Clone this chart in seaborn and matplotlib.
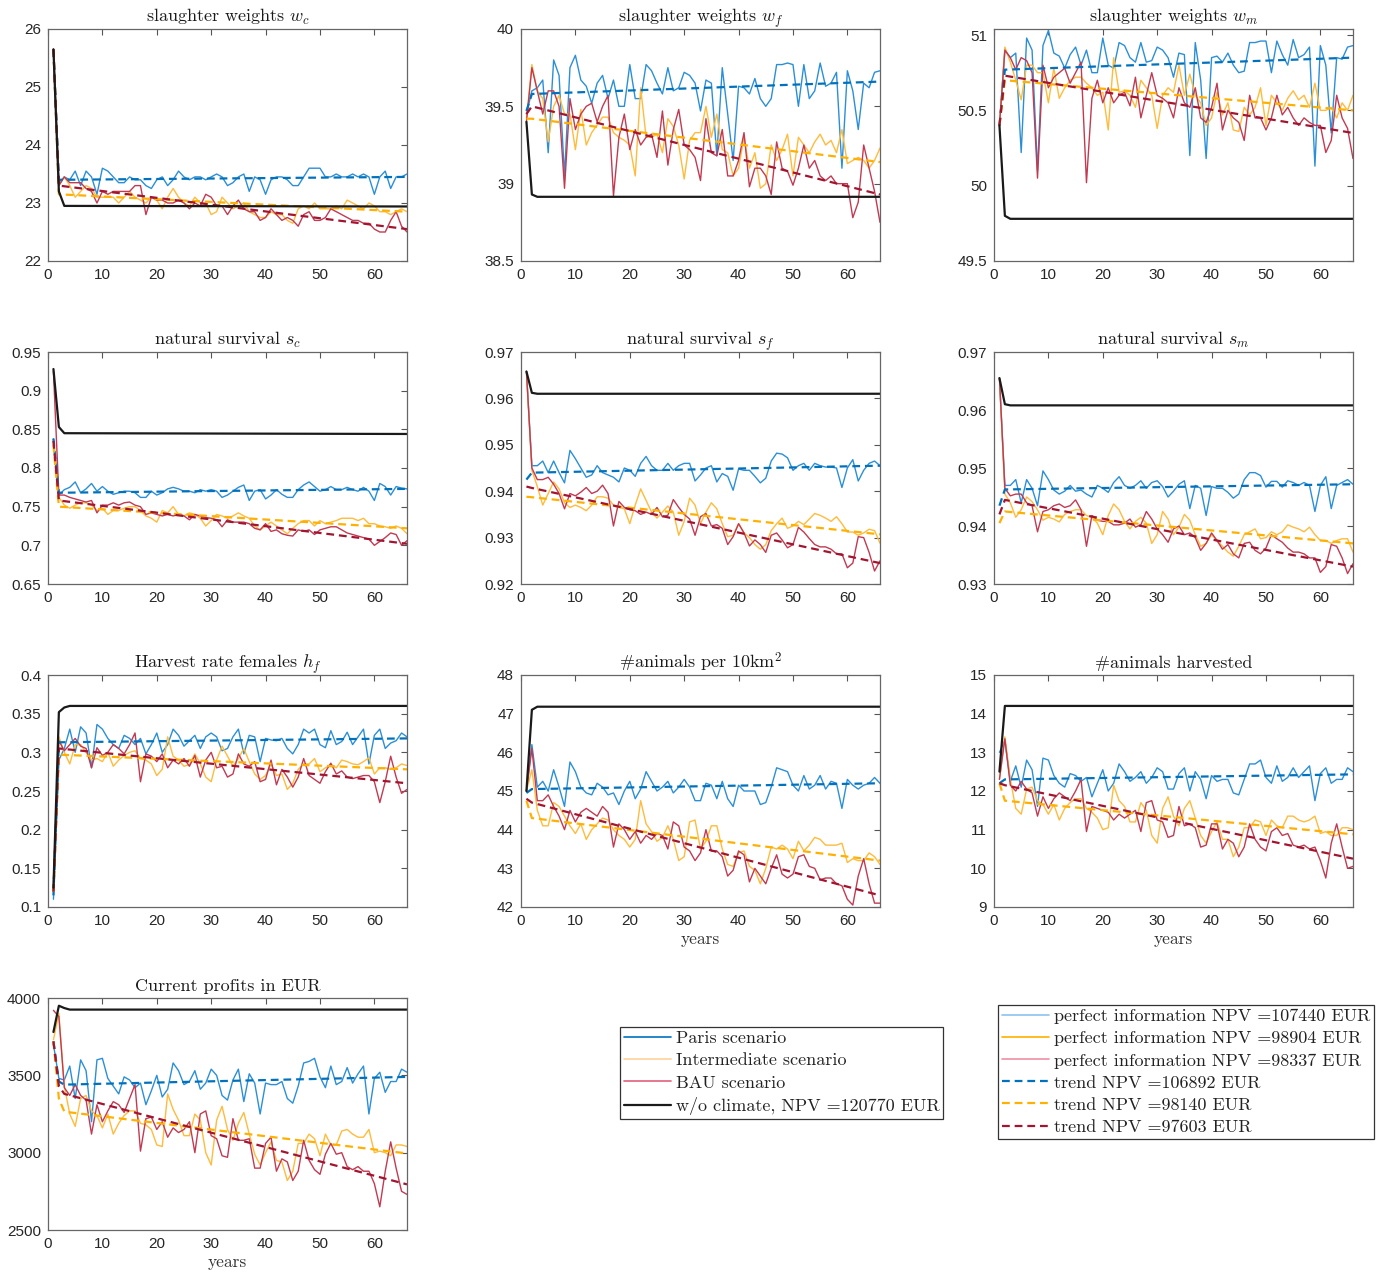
import numpy as np
import seaborn as sns
import matplotlib.pyplot as plt
from matplotlib.lines import Line2D
from matplotlib.ticker import FormatStrFormatter

# years 1..66 of the simulation
years = list(range(1, 67))

# ---- slaughter weights w_c ----
wc_paris = [25.65, 23.35, 23.45, 23.4, 23.55, 23.3, 23.55, 23.45, 23.15, 23.6,
            23.55, 23.45, 23.35, 23.35, 23.45, 23.4, 23.4, 23.3, 23.25, 23.4,
            23.45, 23.3, 23.4, 23.55, 23.45, 23.4, 23.45, 23.45, 23.4, 23.45,
            23.5, 23.45, 23.3, 23.35, 23.45, 23.5, 23.2, 23.45, 23.4, 23.15,
            23.4, 23.45, 23.45, 23.4, 23.3, 23.3, 23.45, 23.6, 23.6, 23.6,
            23.45, 23.45, 23.5, 23.45, 23.45, 23.5, 23.45, 23.5, 23.45, 23.15,
            23.45, 23.55, 23.25, 23.45, 23.45, 23.5]
wc_inter = [25.65, 23.3, 23.45, 23.3, 23.1, 23.2, 23.3, 23.25, 23.1, 23.1,
            23.1, 23.1, 23.0, 23.1, 23.2, 23.1, 23.05, 23.0, 23.1, 23.05,
            22.9, 23.1, 23.25, 23.1, 23.0, 22.95, 23.1, 23.0, 23.0, 22.8,
            22.85, 23.1, 23.0, 22.9, 22.95, 23.0, 22.85, 22.8, 22.75, 22.75,
            22.85, 22.8, 22.8, 22.7, 22.65, 22.9, 22.95, 22.9, 23.0, 22.9,
            22.9, 22.9, 22.95, 22.9, 23.05, 23.0, 22.95, 22.9, 23.0, 22.95,
            22.85, 22.85, 22.8, 22.85, 22.9, 22.85]
wc_bau = [25.65, 23.3, 23.45, 23.35, 23.35, 23.35, 23.25, 23.2, 23.0, 23.2,
          23.15, 23.2, 23.2, 23.2, 23.2, 23.3, 23.3, 22.8, 23.1, 23.05,
          23.05, 23.0, 23.0, 23.05, 23.0, 22.9, 23.0, 22.95, 23.15, 23.1,
          22.95, 22.95, 22.8, 22.95, 23.05, 22.9, 22.85, 22.85, 22.7, 22.75,
          22.9, 22.8, 22.7, 22.75, 22.7, 22.6, 22.8, 22.85, 22.7, 22.7,
          22.75, 22.9, 22.85, 22.8, 22.75, 22.7, 22.7, 22.65, 22.65, 22.55,
          22.5, 22.5, 22.7, 22.85, 22.6, 22.5]
wc_trend_x = [1, 2, 66]
wc_trend_paris = [25.65, 23.4, 23.45]
wc_trend_inter = [25.65, 23.15, 22.85]
wc_trend_bau = [25.65, 23.3, 22.55]
wc_base_x = [1, 2, 3, 66]
wc_base = [25.65, 23.2, 22.95, 22.94]

# ---- slaughter weights w_f ----
wf_paris = [39.45, 39.6, 39.62, 39.67, 39.2, 39.8, 39.7, 39.05, 39.75, 39.83,
            39.67, 39.63, 39.52, 39.65, 39.7, 39.55, 39.67, 39.5, 39.5, 39.77,
            39.55, 39.55, 39.77, 39.73, 39.65, 39.58, 39.75, 39.6, 39.62, 39.72,
            39.7, 39.65, 39.47, 39.67, 39.65, 39.18, 39.75, 39.45, 39.15, 39.63,
            39.62, 39.58, 39.68, 39.55, 39.5, 39.55, 39.77, 39.77, 39.78, 39.77,
            39.5, 39.77, 39.55, 39.6, 39.78, 39.63, 39.65, 39.72, 39.1, 39.73,
            39.6, 39.35, 39.65, 39.62, 39.72, 39.73]
wf_inter = [39.42, 39.77, 39.6, 39.55, 39.27, 39.5, 39.57, 39.45, 39.45, 39.22,
            39.48, 39.25, 39.33, 39.38, 39.43, 39.43, 39.33, 39.3, 39.28, 39.25,
            39.05, 39.62, 39.3, 39.3, 39.32, 39.2, 39.42, 39.37, 39.25, 39.03,
            39.28, 39.33, 39.33, 39.5, 39.3, 39.45, 39.22, 39.2, 39.05, 39.1,
            39.3, 39.1, 39.2, 38.97, 39.0, 39.25, 39.15, 39.22, 39.32, 39.05,
            39.3, 39.25, 39.2, 39.27, 39.32, 39.25, 39.28, 39.2, 39.35, 39.13,
            39.15, 39.17, 39.15, 39.1, 39.15, 39.23]
wf_bau = [39.4, 39.75, 39.6, 39.45, 39.6, 39.6, 39.5, 38.97, 39.55, 39.35,
          39.45, 39.5, 39.52, 39.4, 39.5, 39.57, 38.92, 39.3, 39.45, 39.22,
          39.35, 39.25, 39.3, 39.32, 39.17, 39.47, 39.12, 39.35, 39.48, 39.25,
          39.22, 39.17, 39.02, 39.42, 39.2, 39.18, 39.35, 39.05, 39.05, 39.15,
          39.33, 38.98, 39.1, 39.1, 39.05, 38.93, 39.27, 39.1, 39.08, 38.99,
          39.1, 39.25, 39.1, 39.15, 39.05, 39.02, 39.05, 39.0, 39.0, 39.0,
          38.78, 38.88, 39.25, 39.1, 38.95, 38.75]
wf_trend_x = [1, 2, 66]
wf_trend_paris = [39.47, 39.58, 39.66]
wf_trend_inter = [39.42, 39.42, 39.14]
wf_trend_bau = [39.45, 39.5, 38.93]
wf_base_x = [1, 2, 3, 66]
wf_base = [39.4, 38.93, 38.915, 38.915]

# ---- slaughter weights w_m ----
wm_paris = [50.4, 50.9, 50.85, 50.88, 50.22, 50.98, 50.9, 50.1, 50.93, 51.03,
            50.88, 50.86, 50.78, 50.87, 50.92, 50.8, 50.9, 50.75, 50.75, 50.98,
            50.8, 50.78, 50.95, 50.93, 50.85, 50.82, 50.95, 50.82, 50.83, 50.92,
            50.9, 50.85, 50.72, 50.88, 50.87, 50.2, 50.95, 50.7, 50.18, 50.85,
            50.86, 50.82, 50.88, 50.8, 50.75, 50.76, 50.95, 50.95, 50.96, 50.96,
            50.75, 50.96, 50.87, 50.8, 50.97, 50.85, 50.87, 50.92, 50.13, 50.93,
            50.8, 50.35, 50.85, 50.84, 50.92, 50.93]
wm_inter = [50.4, 50.92, 50.82, 50.7, 50.57, 50.8, 50.8, 50.75, 50.75, 50.55,
            50.78, 50.58, 50.65, 50.7, 50.72, 50.72, 50.68, 50.65, 50.6, 50.62,
            50.37, 50.85, 50.62, 50.63, 50.6, 50.52, 50.7, 50.65, 50.6, 50.38,
            50.6, 50.65, 50.62, 50.8, 50.6, 50.74, 50.6, 50.55, 50.4, 50.45,
            50.62, 50.47, 50.55, 50.37, 50.36, 50.52, 50.47, 50.52, 50.65, 50.4,
            50.6, 50.55, 50.5, 50.58, 50.63, 50.57, 50.6, 50.52, 50.68, 50.5,
            50.5, 50.52, 50.45, 50.55, 50.5, 50.6]
wm_bau = [50.4, 50.9, 50.85, 50.77, 50.85, 50.83, 50.75, 50.05, 50.8, 50.65,
          50.72, 50.75, 50.78, 50.68, 50.75, 50.82, 50.02, 50.58, 50.7, 50.55,
          50.65, 50.55, 50.6, 50.62, 50.53, 50.72, 50.45, 50.6, 50.75, 50.6,
          50.58, 50.55, 50.45, 50.65, 50.55, 50.52, 50.65, 50.45, 50.42, 50.52,
          50.68, 50.37, 50.5, 50.45, 50.42, 50.3, 50.6, 50.45, 50.45, 50.37,
          50.45, 50.6, 50.47, 50.52, 50.45, 50.4, 50.45, 50.42, 50.4, 50.4,
          50.22, 50.3, 50.6, 50.45, 50.38, 50.18]
wm_trend_x = [1, 2, 66]
wm_trend_paris = [50.4, 50.77, 50.85]
wm_trend_inter = [50.4, 50.7, 50.5]
wm_trend_bau = [50.4, 50.73, 50.35]
wm_base_x = [1, 2, 3, 66]
wm_base = [50.4, 49.8, 49.78, 49.78]

# ---- natural survival s_c ----
sc_paris = [0.838, 0.765, 0.772, 0.775, 0.782, 0.768, 0.773, 0.78, 0.77, 0.776,
            0.77, 0.766, 0.768, 0.77, 0.77, 0.768, 0.762, 0.762, 0.77, 0.765,
            0.768, 0.773, 0.775, 0.773, 0.77, 0.77, 0.768, 0.772, 0.77, 0.772,
            0.77, 0.762, 0.765, 0.77, 0.775, 0.778, 0.758, 0.77, 0.772, 0.76,
            0.765, 0.772, 0.766, 0.762, 0.762, 0.772, 0.778, 0.782, 0.776, 0.77,
            0.772, 0.776, 0.772, 0.772, 0.775, 0.772, 0.77, 0.775, 0.77, 0.758,
            0.78, 0.776, 0.765, 0.776, 0.774, 0.773]
sc_inter = [0.83, 0.762, 0.752, 0.748, 0.752, 0.755, 0.755, 0.752, 0.745, 0.748,
            0.74, 0.745, 0.745, 0.748, 0.75, 0.75, 0.745, 0.738, 0.735, 0.73,
            0.745, 0.742, 0.75, 0.74, 0.738, 0.742, 0.74, 0.735, 0.725, 0.732,
            0.74, 0.738, 0.735, 0.738, 0.742, 0.738, 0.735, 0.725, 0.72, 0.725,
            0.73, 0.725, 0.72, 0.715, 0.722, 0.728, 0.732, 0.732, 0.725, 0.732,
            0.728, 0.73, 0.732, 0.735, 0.735, 0.735, 0.732, 0.735, 0.728, 0.728,
            0.725, 0.724, 0.722, 0.725, 0.722, 0.715]
sc_bau = [0.925, 0.765, 0.765, 0.762, 0.76, 0.758, 0.756, 0.758, 0.742, 0.752,
          0.752, 0.755, 0.752, 0.755, 0.756, 0.752, 0.75, 0.74, 0.742, 0.74,
          0.738, 0.74, 0.738, 0.74, 0.738, 0.733, 0.74, 0.738, 0.736, 0.735,
          0.733, 0.724, 0.733, 0.73, 0.73, 0.73, 0.728, 0.722, 0.72, 0.728,
          0.718, 0.72, 0.715, 0.713, 0.712, 0.72, 0.718, 0.72, 0.714, 0.72,
          0.722, 0.724, 0.724, 0.72, 0.716, 0.714, 0.712, 0.71, 0.708, 0.7,
          0.705, 0.71, 0.716, 0.714, 0.7, 0.706]
sc_trend_x = [1, 2, 66]
sc_trend_paris = [0.838, 0.768, 0.773]
sc_trend_inter = [0.83, 0.75, 0.722]
sc_trend_bau = [0.835, 0.758, 0.702]
sc_base_x = [1, 2, 3, 66]
sc_base = [0.928, 0.853, 0.845, 0.844]

# ---- natural survival s_f ----
sf_paris = [0.9658, 0.9455, 0.9455, 0.9465, 0.944, 0.9465, 0.944, 0.9418, 0.9488, 0.947,
            0.945, 0.943, 0.9435, 0.9455, 0.944, 0.9435, 0.943, 0.942, 0.945, 0.9445,
            0.9432, 0.946, 0.9475, 0.9455, 0.9445, 0.9445, 0.946, 0.9445, 0.9455, 0.946,
            0.946, 0.9422, 0.9435, 0.945, 0.9455, 0.942, 0.9438, 0.9432, 0.9402, 0.9448,
            0.9445, 0.9445, 0.9432, 0.9418, 0.9428, 0.9465, 0.9482, 0.948, 0.9472, 0.9445,
            0.9455, 0.946, 0.9445, 0.946, 0.9455, 0.9452, 0.9452, 0.945, 0.9408, 0.945,
            0.9468, 0.9422, 0.9445, 0.946, 0.9465, 0.9455]
sf_inter = [0.9658, 0.9445, 0.941, 0.937, 0.9395, 0.942, 0.9405, 0.9375, 0.9365, 0.937,
            0.9365, 0.9358, 0.937, 0.9388, 0.9388, 0.9385, 0.937, 0.9365, 0.9362, 0.933,
            0.937, 0.9405, 0.938, 0.9355, 0.9342, 0.9355, 0.9368, 0.9355, 0.9305, 0.9335,
            0.9385, 0.937, 0.933, 0.9355, 0.9375, 0.9362, 0.933, 0.9302, 0.9305, 0.933,
            0.931, 0.93, 0.9285, 0.9275, 0.9285, 0.9315, 0.933, 0.9342, 0.932, 0.9325,
            0.9335, 0.9328, 0.934, 0.9352, 0.9348, 0.9342, 0.9335, 0.9345, 0.933, 0.9312,
            0.9312, 0.9305, 0.931, 0.9318, 0.9315, 0.9288]
sf_bau = [0.9658, 0.945, 0.9425, 0.9425, 0.943, 0.9415, 0.9395, 0.9362, 0.9395, 0.939,
          0.9398, 0.9408, 0.9395, 0.94, 0.9413, 0.9395, 0.9325, 0.9378, 0.9365, 0.936,
          0.9358, 0.935, 0.9355, 0.935, 0.9365, 0.9345, 0.9348, 0.9382, 0.9365, 0.935,
          0.934, 0.9305, 0.9345, 0.9352, 0.9325, 0.9328, 0.932, 0.9285, 0.9302, 0.933,
          0.931, 0.9282, 0.9295, 0.9285, 0.9268, 0.9305, 0.931, 0.9295, 0.9278, 0.9285,
          0.9322, 0.9312, 0.9298, 0.9285, 0.928, 0.928, 0.9275, 0.9265, 0.9265, 0.9235,
          0.9245, 0.9302, 0.93, 0.9268, 0.9228, 0.925]
sf_trend_x = [1, 2, 66]
sf_trend_paris = [0.9425, 0.944, 0.9455]
sf_trend_inter = [0.9388, 0.9387, 0.9307]
sf_trend_bau = [0.941, 0.9407, 0.9245]
sf_base_x = [1, 2, 3, 66]
sf_base = [0.9658, 0.9612, 0.961, 0.961]

# ---- natural survival s_m ----
sm_paris = [0.9655, 0.947, 0.947, 0.948, 0.944, 0.948, 0.9465, 0.9435, 0.9495, 0.948,
            0.9462, 0.9455, 0.946, 0.947, 0.946, 0.9462, 0.9455, 0.945, 0.947, 0.9465,
            0.9458, 0.9475, 0.9485, 0.947, 0.9465, 0.947, 0.9478, 0.9465, 0.9475, 0.9478,
            0.9468, 0.945, 0.946, 0.9472, 0.9478, 0.943, 0.947, 0.9465, 0.9418, 0.9468,
            0.9465, 0.9465, 0.9458, 0.9448, 0.9455, 0.948, 0.9492, 0.9492, 0.9487, 0.9467,
            0.9477, 0.9477, 0.9467, 0.9478, 0.9475, 0.947, 0.9475, 0.947, 0.9425, 0.947,
            0.9485, 0.943, 0.947, 0.9475, 0.948, 0.9472]
sm_inter = [0.9655, 0.9455, 0.944, 0.9415, 0.9428, 0.945, 0.9442, 0.9428, 0.941, 0.9415,
            0.9412, 0.9407, 0.942, 0.9425, 0.9428, 0.9428, 0.9418, 0.9415, 0.9405, 0.9385,
            0.9418, 0.9438, 0.9428, 0.9408, 0.9395, 0.9408, 0.9415, 0.9405, 0.937, 0.9385,
            0.9425, 0.9412, 0.9385, 0.9398, 0.942, 0.941, 0.9385, 0.9365, 0.937, 0.9385,
            0.9375, 0.9365, 0.9355, 0.9348, 0.9365, 0.9385, 0.939, 0.9395, 0.9378, 0.938,
            0.939, 0.9385, 0.939, 0.9402, 0.9398, 0.9395, 0.939, 0.9398, 0.9385, 0.9375,
            0.9375, 0.937, 0.9375, 0.9378, 0.9378, 0.9355]
sm_bau = [0.9655, 0.9465, 0.9452, 0.9455, 0.9455, 0.944, 0.9435, 0.939, 0.9425, 0.9428,
          0.9435, 0.9438, 0.9432, 0.9435, 0.9445, 0.9428, 0.9365, 0.9418, 0.941, 0.9408,
          0.9408, 0.9402, 0.9402, 0.9405, 0.9412, 0.9398, 0.9402, 0.9425, 0.9412, 0.9395,
          0.9385, 0.9372, 0.9395, 0.94, 0.9385, 0.9388, 0.938, 0.9358, 0.937, 0.9388,
          0.9375, 0.936, 0.9368, 0.9352, 0.9345, 0.937, 0.9372, 0.9358, 0.9352, 0.9362,
          0.9385, 0.9378, 0.9372, 0.9362, 0.9355, 0.9355, 0.9352, 0.9345, 0.9345, 0.932,
          0.933, 0.9368, 0.9365, 0.9345, 0.9318, 0.9335]
sm_trend_x = [1, 2, 66]
sm_trend_paris = [0.9435, 0.9463, 0.9472]
sm_trend_inter = [0.9405, 0.9425, 0.937]
sm_trend_bau = [0.942, 0.9445, 0.933]
sm_base_x = [1, 2, 3, 66]
sm_base = [0.9655, 0.961, 0.9608, 0.9608]

# ---- harvest rate females h_f ----
hf_paris = [0.11, 0.29, 0.305, 0.33, 0.3, 0.333, 0.325, 0.28, 0.336, 0.33,
            0.318, 0.31, 0.305, 0.322, 0.318, 0.31, 0.318, 0.298, 0.31, 0.325,
            0.3, 0.31, 0.33, 0.322, 0.308, 0.315, 0.322, 0.305, 0.32, 0.325,
            0.32, 0.302, 0.305, 0.32, 0.33, 0.298, 0.322, 0.32, 0.288, 0.318,
            0.316, 0.315, 0.318, 0.305, 0.298, 0.31, 0.33, 0.325, 0.33, 0.31,
            0.306, 0.328, 0.31, 0.314, 0.326, 0.31, 0.32, 0.33, 0.285, 0.322,
            0.33, 0.305, 0.312, 0.315, 0.325, 0.32]
hf_inter = [0.12, 0.32, 0.3, 0.285, 0.31, 0.31, 0.3, 0.29, 0.292, 0.288,
            0.3, 0.282, 0.29, 0.296, 0.3, 0.302, 0.292, 0.29, 0.285, 0.27,
            0.278, 0.32, 0.295, 0.29, 0.282, 0.284, 0.298, 0.285, 0.268, 0.262,
            0.29, 0.308, 0.295, 0.282, 0.292, 0.305, 0.288, 0.272, 0.265, 0.27,
            0.285, 0.27, 0.272, 0.252, 0.26, 0.278, 0.285, 0.285, 0.292, 0.275,
            0.28, 0.284, 0.28, 0.29, 0.288, 0.285, 0.284, 0.288, 0.293, 0.272,
            0.28, 0.28, 0.278, 0.28, 0.285, 0.283]
hf_bau = [0.12, 0.315, 0.302, 0.31, 0.318, 0.308, 0.305, 0.28, 0.306, 0.296,
          0.3, 0.31, 0.305, 0.298, 0.31, 0.325, 0.262, 0.298, 0.295, 0.288,
          0.298, 0.28, 0.29, 0.285, 0.292, 0.282, 0.296, 0.268, 0.29, 0.3,
          0.28, 0.282, 0.268, 0.272, 0.298, 0.285, 0.282, 0.288, 0.262, 0.265,
          0.29, 0.258, 0.278, 0.268, 0.255, 0.268, 0.292, 0.27, 0.265, 0.26,
          0.275, 0.286, 0.272, 0.276, 0.268, 0.266, 0.268, 0.27, 0.27, 0.262,
          0.235, 0.262, 0.295, 0.268, 0.247, 0.252]
hf_trend_x = [1, 2, 66]
hf_trend_paris = [0.115, 0.313, 0.318]
hf_trend_inter = [0.12, 0.297, 0.278]
hf_trend_bau = [0.12, 0.305, 0.26]
hf_base_x = [1, 2, 3, 4, 66]
hf_base = [0.125, 0.352, 0.358, 0.36, 0.36]

# ---- #animals per 10km^2 ----
na_paris = [45.0, 46.2, 45.1, 45.25, 45.0, 45.55, 45.1, 44.6, 45.75, 45.5,
            45.1, 44.95, 44.9, 45.2, 45.1, 44.9, 44.95, 44.65, 45.0, 45.25,
            44.8, 45.05, 45.5, 45.25, 45.0, 45.1, 45.25, 44.95, 45.1, 45.3,
            45.1, 44.75, 44.75, 45.2, 45.15, 44.8, 45.25, 44.8, 44.6, 45.15,
            45.0, 45.0, 45.0, 44.65, 44.7, 45.1, 45.6, 45.55, 45.5, 45.15,
            45.0, 45.4, 45.05, 45.15, 45.4, 45.05, 45.25, 45.2, 44.55, 45.3,
            45.15, 45.05, 45.15, 45.2, 45.35, 45.2]
na_inter = [45.0, 45.55, 44.5, 44.1, 44.1, 44.7, 44.6, 44.35, 44.1, 43.9,
            44.15, 43.75, 44.0, 44.15, 44.3, 44.25, 44.0, 43.85, 43.75, 43.55,
            43.75, 44.75, 44.15, 43.95, 43.7, 43.8, 44.1, 43.75, 43.2, 43.3,
            44.2, 44.25, 43.5, 43.7, 44.1, 44.1, 43.5, 43.1, 43.05, 43.4,
            43.45, 43.05, 42.95, 42.6, 43.0, 43.55, 43.5, 43.6, 43.5, 43.25,
            43.7, 43.45, 43.6, 43.8, 43.75, 43.6, 43.6, 43.6, 43.65, 43.15,
            43.25, 43.2, 43.2, 43.4, 43.3, 43.1]
na_bau = [45.0, 46.1, 44.75, 44.75, 44.9, 44.6, 44.35, 44.0, 44.5, 44.2,
          44.45, 44.55, 44.45, 44.35, 44.6, 44.45, 43.55, 44.15, 44.0, 43.75,
          43.95, 43.65, 43.85, 43.75, 43.9, 43.85, 43.5, 44.2, 44.1, 43.55,
          43.45, 43.2, 43.4, 44.0, 43.45, 43.45, 43.3, 42.8, 42.95, 43.45,
          43.35, 42.65, 43.0, 42.8, 42.6, 43.0, 43.35, 42.85, 42.75, 42.85,
          43.3, 43.35, 43.05, 43.0, 42.7, 42.75, 42.75, 42.6, 42.55, 42.2,
          42.05, 42.8, 43.25, 42.6, 42.1, 42.1]
na_trend_x = [1, 2, 66]
na_trend_paris = [44.95, 45.05, 45.2]
na_trend_inter = [44.75, 44.3, 43.2]
na_trend_bau = [44.8, 44.7, 42.3]
na_base_x = [1, 2, 3, 66]
na_base = [45.0, 47.1, 47.18, 47.18]

# ---- #animals harvested ----
nh_paris = [13.0, 13.3, 12.25, 12.65, 12.1, 12.8, 12.55, 11.6, 12.85, 12.8,
            12.4, 12.2, 12.1, 12.45, 12.4, 12.25, 12.35, 11.85, 12.2, 12.55,
            12.0, 12.2, 12.7, 12.5, 12.25, 12.35, 12.5, 12.2, 12.35, 12.6,
            12.5, 12.05, 12.05, 12.45, 12.6, 12.0, 12.5, 12.3, 11.8, 12.4,
            12.25, 12.3, 12.3, 11.95, 11.9, 12.3, 12.7, 12.7, 12.8, 12.35,
            12.2, 12.65, 12.25, 12.35, 12.6, 12.35, 12.5, 12.65, 11.75, 12.45,
            12.6, 12.2, 12.3, 12.3, 12.6, 12.5]
nh_inter = [12.3, 13.4, 12.3, 11.55, 11.4, 12.05, 12.1, 11.75, 11.65, 11.4,
            11.65, 11.25, 11.55, 11.7, 11.8, 11.8, 11.55, 11.45, 11.3, 11.0,
            11.05, 12.15, 11.75, 11.6, 11.2, 11.2, 11.7, 11.5, 10.85, 10.65,
            11.55, 11.85, 11.35, 11.1, 11.55, 11.75, 11.3, 10.85, 10.65, 10.95,
            11.2, 10.75, 10.75, 10.3, 10.55, 11.05, 11.05, 11.25, 11.2, 10.85,
            11.25, 11.1, 11.05, 11.35, 11.35, 11.25, 11.2, 11.25, 11.35, 10.9,
            10.95, 10.85, 10.85, 11.05, 11.05, 11.0]
nh_bau = [12.3, 13.35, 12.15, 12.0, 12.25, 12.05, 11.95, 11.35, 11.85, 11.55,
          11.8, 11.95, 11.85, 11.75, 12.0, 12.3, 10.95, 11.6, 11.55, 11.5,
          11.45, 11.25, 11.4, 11.3, 11.4, 11.5, 10.95, 11.7, 11.75, 11.25,
          11.2, 10.8, 10.85, 11.6, 11.1, 11.15, 11.05, 10.55, 10.6, 11.15,
          11.15, 10.5, 10.75, 10.65, 10.3, 10.55, 11.15, 10.75, 10.55, 10.45,
          10.95, 11.05, 10.85, 10.9, 10.6, 10.55, 10.6, 10.5, 10.55, 10.2,
          9.75, 10.65, 11.15, 10.55, 10.0, 10.05]
nh_trend_x = [1, 2, 66]
nh_trend_paris = [12.2, 12.3, 12.43]
nh_trend_inter = [12.2, 11.75, 10.88]
nh_trend_bau = [12.2, 12.15, 10.25]
nh_base_x = [1, 2, 3, 66]
nh_base = [12.5, 14.2, 14.2, 14.2]

# ---- current profits in EUR ----
pr_paris = [3700, 3480, 3470, 3560, 3350, 3600, 3530, 3200, 3600, 3610,
            3480, 3430, 3380, 3490, 3470, 3420, 3450, 3310, 3400, 3500,
            3360, 3410, 3580, 3530, 3440, 3460, 3530, 3410, 3450, 3540,
            3500, 3370, 3340, 3470, 3540, 3330, 3510, 3450, 3250, 3450,
            3440, 3440, 3460, 3350, 3320, 3430, 3580, 3590, 3610, 3490,
            3420, 3560, 3440, 3460, 3550, 3450, 3510, 3560, 3250, 3480,
            3520, 3390, 3460, 3460, 3540, 3520]
pr_inter = [3730, 3900, 3430, 3250, 3170, 3350, 3370, 3270, 3240, 3160,
            3250, 3120, 3190, 3240, 3270, 3270, 3190, 3180, 3150, 3050,
            3040, 3380, 3280, 3210, 3110, 3110, 3250, 3210, 3000, 2920,
            3210, 3300, 3150, 3080, 3190, 3260, 3120, 2990, 2920, 3000,
            3070, 2950, 2940, 2820, 2880, 3060, 3060, 3120, 3090, 2980,
            3120, 3050, 3050, 3140, 3150, 3120, 3100, 3100, 3150, 3000,
            3010, 3000, 2980, 3050, 3050, 3040]
pr_bau = [3920, 3880, 3420, 3370, 3440, 3370, 3340, 3120, 3310, 3200,
          3270, 3330, 3310, 3260, 3350, 3440, 3010, 3220, 3230, 3150,
          3200, 3100, 3160, 3130, 3150, 3200, 3000, 3250, 3270, 3110,
          3090, 2980, 2970, 3220, 3080, 3080, 3090, 2900, 2900, 3060,
          3100, 2880, 2960, 2940, 2820, 2880, 3080, 2950, 2890, 2860,
          2990, 3060, 2990, 3000, 2910, 2890, 2910, 2880, 2880, 2800,
          2650, 2880, 3070, 2900, 2750, 2730]
pr_trend_x = [1, 2, 3, 66]
pr_trend_paris = [3720, 3460, 3440, 3490]
pr_trend_inter = [3720, 3350, 3265, 2995]
pr_trend_bau = [3720, 3430, 3380, 2795]
pr_base_x = [1, 2, 3, 4, 66]
pr_base = [3780, 3950, 3935, 3925, 3925]

# titles and y ticks
titles = ["slaughter weights $w_c$", "slaughter weights $w_f$", "slaughter weights $w_m$",
          "natural survival $s_c$", "natural survival $s_f$", "natural survival $s_m$",
          "Harvest rate females $h_f$", "#animals per 10km$^2$", "#animals harvested",
          "Current profits in EUR"]
yticks = [[22, 23, 24, 25, 26], [38.5, 39, 39.5, 40], [49.5, 50, 50.5, 51],
          [0.65, 0.7, 0.75, 0.8, 0.85, 0.9, 0.95], [0.92, 0.93, 0.94, 0.95, 0.96, 0.97],
          [0.93, 0.94, 0.95, 0.96, 0.97], [0.1, 0.15, 0.2, 0.25, 0.3, 0.35, 0.4],
          [42, 43, 44, 45, 46, 47, 48], [9, 10, 11, 12, 13, 14, 15], [2500, 3000, 3500, 4000]]
ylims = [(22, 26), (38.5, 40), (49.5, 51.04), (0.65, 0.95), (0.92, 0.97),
         (0.93, 0.97), (0.1, 0.4), (42, 48), (9, 15), (2500, 4000)]
xlabels = ["", "", "", "", "", "", "", "years", "years", "years"]

panels = [
    (wc_paris, wc_inter, wc_bau, wc_trend_x, wc_trend_paris, wc_trend_inter, wc_trend_bau, wc_base_x, wc_base),
    (wf_paris, wf_inter, wf_bau, wf_trend_x, wf_trend_paris, wf_trend_inter, wf_trend_bau, wf_base_x, wf_base),
    (wm_paris, wm_inter, wm_bau, wm_trend_x, wm_trend_paris, wm_trend_inter, wm_trend_bau, wm_base_x, wm_base),
    (sc_paris, sc_inter, sc_bau, sc_trend_x, sc_trend_paris, sc_trend_inter, sc_trend_bau, sc_base_x, sc_base),
    (sf_paris, sf_inter, sf_bau, sf_trend_x, sf_trend_paris, sf_trend_inter, sf_trend_bau, sf_base_x, sf_base),
    (sm_paris, sm_inter, sm_bau, sm_trend_x, sm_trend_paris, sm_trend_inter, sm_trend_bau, sm_base_x, sm_base),
    (hf_paris, hf_inter, hf_bau, hf_trend_x, hf_trend_paris, hf_trend_inter, hf_trend_bau, hf_base_x, hf_base),
    (na_paris, na_inter, na_bau, na_trend_x, na_trend_paris, na_trend_inter, na_trend_bau, na_base_x, na_base),
    (nh_paris, nh_inter, nh_bau, nh_trend_x, nh_trend_paris, nh_trend_inter, nh_trend_bau, nh_base_x, nh_base),
    (pr_paris, pr_inter, pr_bau, pr_trend_x, pr_trend_paris, pr_trend_inter, pr_trend_bau, pr_base_x, pr_base),
]

legend_labels_left = ["Paris scenario", "Intermediate scenario", "BAU scenario",
                      "w/o climate, NPV =120770 EUR"]
legend_labels_right = ["perfect information NPV =107440 EUR", "perfect information NPV =98904 EUR",
                       "perfect information NPV =98337 EUR", "trend NPV =106892 EUR",
                       "trend NPV =98140 EUR", "trend NPV =97603 EUR"]

# colours (MATLAB default-ish)
solid_cols = ["#2b8fd8", "#ffbb3c", "#c23a52"]
dash_cols = ["#0072BD", "#FFB000", "#A2142F"]

sns.set_style("white")
plt.rcParams["font.family"] = ["Liberation Sans", "DejaVu Sans"]
plt.rcParams["mathtext.fontset"] = "cm"
serif = ["cmr10", "DejaVu Serif"]

W, H = 1379, 1275
fig = plt.figure(figsize=(W / 100, H / 100), dpi=100)

col_x = [48, 521, 994]
row_y = [29, 352, 675, 998]
aw, ah = 359, 232
dash_pat = (0, (3.5, 2.2))

for i, (pa, it, ba, tx, tp, ti, tb, bx, bv) in enumerate(panels):
    r, c = divmod(i, 3)
    ax = fig.add_axes([col_x[c] / W, 1 - (row_y[r] + ah) / H, aw / W, ah / H])
    for ser, col in zip([pa, it, ba], solid_cols):
        sns.lineplot(x=years, y=ser, ax=ax, color=col, linewidth=1.0)
    for ser, col in zip([tp, ti, tb], dash_cols):
        sns.lineplot(x=tx, y=ser, ax=ax, color=col, linewidth=1.6, linestyle=dash_pat)
    sns.lineplot(x=bx, y=bv, ax=ax, color="#1a1a1a", linewidth=1.6)

    ax.set_xlim(0, 66)
    ax.set_ylim(*ylims[i])
    ax.set_xticks([0, 10, 20, 30, 40, 50, 60])
    ax.set_yticks(yticks[i])
    ax.yaxis.set_major_formatter(FormatStrFormatter("%g"))
    ax.tick_params(direction="in", length=4, width=0.8, top=True, right=True,
                   labelsize=11, color="#555555", labelcolor="#262626", pad=5)
    for s in ax.spines.values():
        s.set_color("#666666")
        s.set_linewidth(0.9)
    ax.set_title(titles[i], family=serif, fontsize=13, pad=5, color="#1a1a1a")
    ax.set_xlabel(xlabels[i], family=serif, fontsize=12.5, color="#333333", labelpad=3)
    ax.set_ylabel("")

# legends
left_handles = [Line2D([], [], color="#0072BD", lw=1.2),
                Line2D([], [], color="#ffd29a", lw=1.2),
                Line2D([], [], color="#e0607a", lw=1.2),
                Line2D([], [], color="#1a1a1a", lw=1.6)]
right_handles = [Line2D([], [], color="#8cc4ee", lw=1.2),
                 Line2D([], [], color="#FFB000", lw=1.2),
                 Line2D([], [], color="#ee8fa3", lw=1.2),
                 Line2D([], [], color="#0072BD", lw=1.6, linestyle=dash_pat),
                 Line2D([], [], color="#FFB000", lw=1.6, linestyle=dash_pat),
                 Line2D([], [], color="#A2142F", lw=1.6, linestyle=dash_pat)]

leg_kw = dict(loc="upper left", fancybox=False, framealpha=1, edgecolor="#333333",
              borderaxespad=0, handlelength=2.6, handletextpad=0.3, labelspacing=0.36,
              borderpad=0.2, prop={"family": serif, "size": 13})
leg1 = fig.legend(left_handles, legend_labels_left,
                  bbox_to_anchor=(620 / W, 1 - 1027 / H), **leg_kw)
leg2 = fig.legend(right_handles, legend_labels_right,
                  bbox_to_anchor=(998 / W, 1 - 1005 / H), **leg_kw)
for lg in (leg1, leg2):
    lg.get_frame().set_linewidth(0.9)
    for t in lg.get_texts():
        t.set_color("#222222")

fig.savefig("out.png", dpi=100)
